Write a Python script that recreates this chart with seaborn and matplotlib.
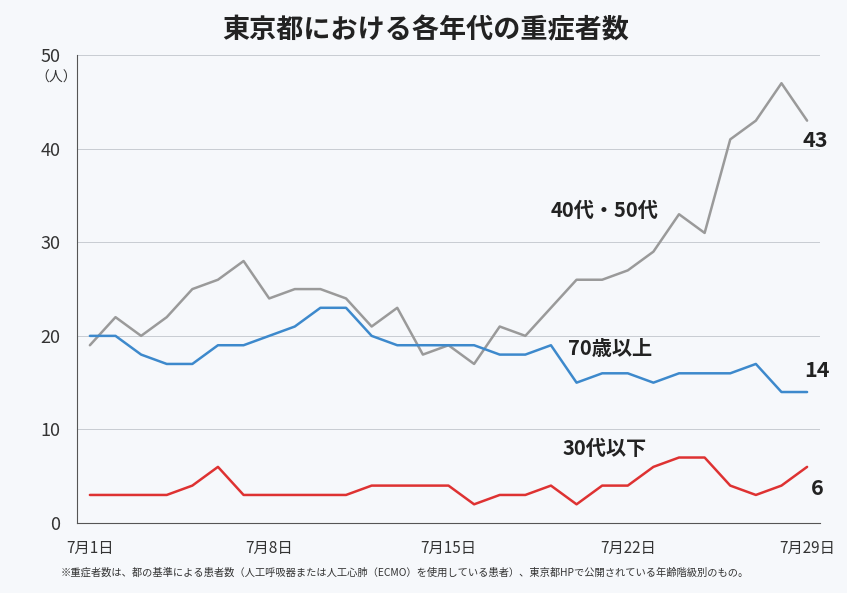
import pandas as pd
import matplotlib.pyplot as plt
import seaborn as sns

# 東京都 重症者数 (7/1 - 7/29)
days = list(range(1, 30))
age_40_50 = [19, 22, 20, 22, 25, 26, 28, 24, 25, 25, 24, 21, 23, 18, 19,
             17, 21, 20, 23, 26, 26, 27, 29, 33, 31, 41, 43, 47, 43]
age_70_up = [20, 20, 18, 17, 17, 19, 19, 20, 21, 23, 23, 20, 19, 19, 19,
             19, 18, 18, 19, 15, 16, 16, 15, 16, 16, 16, 17, 14, 14]
age_30_down = [3, 3, 3, 3, 4, 6, 3, 3, 3, 3, 3, 4, 4, 4, 4,
               2, 3, 3, 4, 2, 4, 4, 6, 7, 7, 4, 3, 4, 6]
series_names = ["40代・50代", "70歳以上", "30代以下"]
label_days = [1, 8, 15, 22, 29]

df = pd.DataFrame({"day": days * 3,
                   "count": age_40_50 + age_70_up + age_30_down,
                   "group": [n for n in series_names for _ in days]})
df["pos"] = df["day"] - 1

sns.set_style("white")
plt.rcParams["font.family"] = ["Noto Sans CJK JP", "DejaVu Sans"]

fig = plt.figure(figsize=(8.47, 5.93), dpi=100)
fig.patch.set_facecolor("#f6f8fb")
ax = fig.add_axes([0.091, 0.118, 0.877, 0.789])
ax.set_facecolor("#f6f8fb")

palette = {"40代・50代": "#9a9a9a", "70歳以上": "#3d89cc", "30代以下": "#de3232"}
sns.lineplot(data=df, x="pos", y="count", hue="group", palette=palette,
             linewidth=1.8, legend=False, ax=ax)

ax.set_xlim(-0.5, 28.5)
ax.set_ylim(0, 50)
ax.set_yticks([0, 10, 20, 30, 40, 50])
ax.set_yticklabels(["0", "10", "20", "30", "40", "50"], fontsize=13, color="#333333")
ax.tick_params(axis="y", length=0, pad=12)
ax.grid(axis="y", color="#c8ccd2", linewidth=0.7)
ax.set_axisbelow(True)

# labels at data points, tick marks between categories
ax.set_xticks([d - 1 for d in label_days])
ax.set_xticklabels([f"7月{d}日" for d in label_days], fontsize=11, color="#333333")
ax.tick_params(axis="x", which="major", length=0, pad=12)
ax.set_xticks([d - 1.5 for d in label_days], minor=True)
ax.tick_params(axis="x", which="minor", length=5, width=1, color="#444444")
ax.set_xlabel("")
ax.set_ylabel("")

for s in ["top", "right"]:
    ax.spines[s].set_visible(False)
ax.spines["left"].set_color("#555555")
ax.spines["bottom"].set_color("#555555")

ax.text(-0.5, 47.6, "（人）", fontsize=10, color="#333333", ha="right", va="center",
        transform=ax.transData)

kw = dict(fontsize=14.5, fontweight="bold", color="#222222", ha="center", va="center")
ax.text(20.1, 33.4, "40代・50代", **kw)
ax.text(20.3, 18.7, "70歳以上", **kw)
ax.text(20.1, 8.0, "30代以下", **kw)
kw["fontsize"] = 15.5
ax.text(28.3, 40.9, str(age_40_50[-1]), **kw)
ax.text(28.4, 16.3, str(age_70_up[-1]), **kw)
ax.text(28.4, 3.7, str(age_30_down[-1]), **kw)

fig.text(0.502, 0.948, "東京都における各年代の重症者数", fontsize=19.5, fontweight="bold",
         color="#222222", ha="center", va="center")
fig.text(0.071, 0.035,
         "※重症者数は、都の基準による患者数（人工呼吸器または人工心肺（ECMO）を使用している患者）、東京都HPで公開されている年齢階級別のもの。",
         fontsize=7.4, color="#333333", ha="left", va="center")

plt.savefig("out.png", dpi=100, facecolor=fig.get_facecolor())
